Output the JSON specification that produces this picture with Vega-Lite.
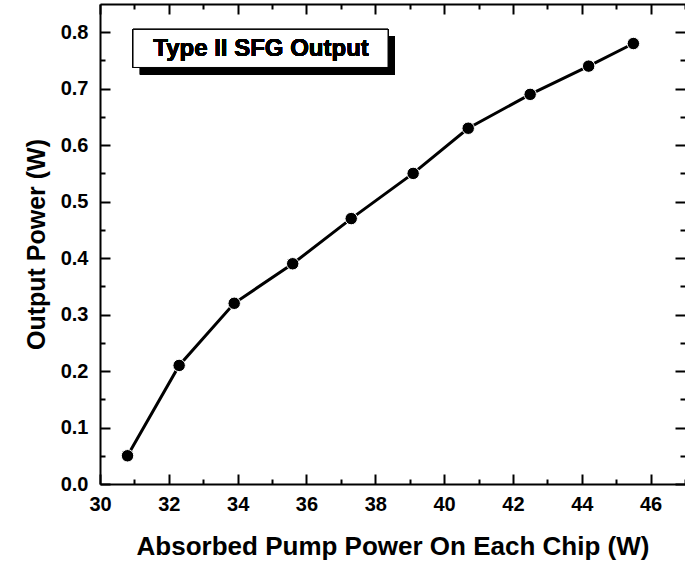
{
  "$schema": "https://vega.github.io/schema/vega-lite/v6.json",
  "autosize": {"type": "none"},
  "width": 585,
  "height": 480,
  "padding": {"left": 100, "top": 4, "right": 0, "bottom": 80},
  "background": "white",
  "config": {
    "view": {"stroke": null},
    "font": "Liberation Sans",
    "axis": {
      "domainColor": "black",
      "domainWidth": 2,
      "tickColor": "black",
      "tickWidth": 2,
      "labelColor": "black",
      "labelFont": "Liberation Sans",
      "labelFontWeight": "bold",
      "labelFontSize": 20,
      "titleColor": "black",
      "titleFont": "Liberation Sans",
      "titleFontWeight": "bold",
      "titleFontSize": 25,
      "grid": false
    }
  },
  "data": {
    "values": [
      {"pump": 30.8, "power": 0.05},
      {"pump": 32.3, "power": 0.21},
      {"pump": 33.9, "power": 0.32},
      {"pump": 35.6, "power": 0.39},
      {"pump": 37.3, "power": 0.47},
      {"pump": 39.1, "power": 0.55},
      {"pump": 40.7, "power": 0.63},
      {"pump": 42.5, "power": 0.69},
      {"pump": 44.2, "power": 0.74},
      {"pump": 45.5, "power": 0.78}
    ]
  },
  "layer": [
    {
      "mark": {"type": "line", "color": "black", "strokeWidth": 3},
      "encoding": {
        "x": {
          "field": "pump", "type": "quantitative",
          "scale": {"domain": [30, 47], "nice": false, "zero": false},
          "axis": {
            "orient": "bottom",
            "title": "Absorbed Pump Power On Each Chip (W)",
            "values": [30, 32, 34, 36, 38, 40, 42, 44, 46],
            "tickSize": -10,
            "labelPadding": 20,
            "labelFlush": false,
            "titleFontSize": 26,
            "titlePadding": 19
          }
        },
        "y": {
          "field": "power", "type": "quantitative",
          "scale": {"domain": [0, 0.85], "nice": false},
          "axis": {
            "orient": "left",
            "title": "Output Power (W)",
            "values": [0, 0.1, 0.2, 0.3, 0.4, 0.5, 0.6, 0.7, 0.8],
            "format": ".1f",
            "tickSize": -10,
            "labelPadding": 22,
            "labelFlush": false,
            "titlePadding": 11
          }
        }
      }
    },
    {
      "mark": {"type": "point", "filled": true, "color": "black", "size": 155, "opacity": 1, "stroke": "white", "strokeWidth": 1},
      "encoding": {
        "x": {
          "field": "pump", "type": "quantitative",
          "axis": {
            "orient": "top",
            "title": null,
            "labels": false,
            "values": [30, 32, 34, 36, 38, 40, 42, 44, 46],
            "tickSize": -10
          }
        },
        "y": {
          "field": "power", "type": "quantitative",
          "axis": {
            "orient": "right",
            "title": null,
            "labels": false,
            "domain": false,
            "values": [0, 0.1, 0.2, 0.3, 0.4, 0.5, 0.6, 0.7, 0.8],
            "tickSize": -10
          }
        }
      }
    },
    {
      "mark": {"type": "rect", "color": "black"},
      "encoding": {
        "x": {
          "datum": 31.16, "type": "quantitative",
          "axis": {
            "orient": "bottom", "title": null, "labels": false, "domain": false,
            "values": [31, 33, 35, 37, 39, 41, 43, 45, 47],
            "tickSize": -5
          }
        },
        "x2": {"datum": 38.57},
        "y": {
          "datum": 0.7926, "type": "quantitative",
          "axis": {
            "orient": "left", "title": null, "labels": false, "domain": false,
            "values": [0.05, 0.15, 0.25, 0.35, 0.45, 0.55, 0.65, 0.75],
            "tickSize": -5
          }
        },
        "y2": {"datum": 0.7252}
      }
    },
    {
      "mark": {"type": "rect", "fill": "white", "stroke": "black", "strokeWidth": 1},
      "encoding": {
        "x": {
          "datum": 30.96, "type": "quantitative",
          "axis": {
            "orient": "top", "title": null, "labels": false, "domain": false,
            "values": [31, 33, 35, 37, 39, 41, 43, 45, 47],
            "tickSize": -5
          }
        },
        "x2": {"datum": 38.37},
        "y": {
          "datum": 0.805, "type": "quantitative",
          "axis": {
            "orient": "right", "title": null, "labels": false, "domain": false,
            "values": [0.05, 0.15, 0.25, 0.35, 0.45, 0.55, 0.65, 0.75],
            "tickSize": -5
          }
        },
        "y2": {"datum": 0.7376}
      }
    },
    {
      "mark": {"type": "text", "color": "black", "font": "Liberation Sans", "fontWeight": "bold", "fontSize": 24, "align": "center", "baseline": "middle"},
      "encoding": {
        "x": {"datum": 34.68, "type": "quantitative", "axis": null},
        "y": {"datum": 0.771, "type": "quantitative", "axis": null},
        "text": {"value": "Type II SFG Output"}
      }
    }
  ],
  "resolve": {"axis": {"x": "independent", "y": "independent"}}
}
